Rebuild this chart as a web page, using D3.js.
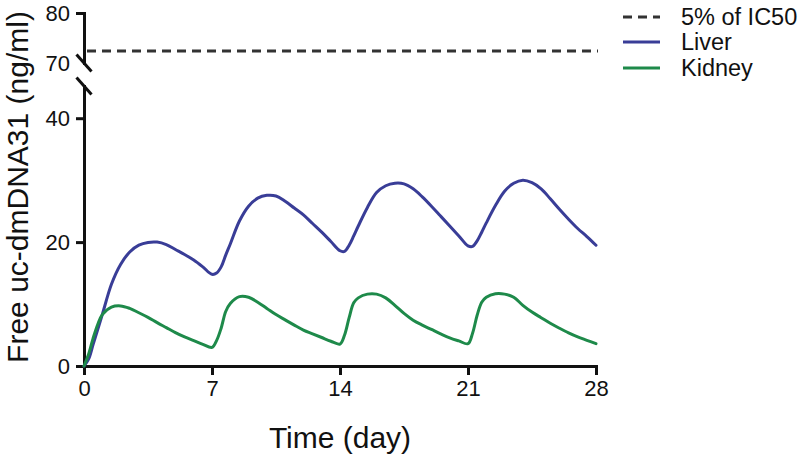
<!DOCTYPE html>
<html><head><meta charset="utf-8">
<script src="https://cdn.jsdelivr.net/npm/d3@7"></script>
<style>
html,body{margin:0;padding:0;background:#fff;}
svg{display:block;font-family:"Liberation Sans",Arial,Helvetica,sans-serif;}
.axis path,.axis line{stroke:#111;stroke-width:3;}
.axis text{fill:#111;font-size:22px;font-family:"Liberation Sans",Arial,sans-serif;}
</style></head>
<body>
<svg id="chart" width="800" height="457"></svg>
<script>
// ---- data ----
const times = [
  0,0.25,0.5,0.75,1,1.5,2,2.5,3,3.5,4,4.5,5,5.5,6,6.5,
  7,7.25,7.5,7.75,8,8.5,9,9.5,10,10.5,11,11.5,12,12.5,13,13.5,
  14,14.25,14.5,14.75,15,15.5,16,16.5,17,17.5,18,18.5,19,19.5,20,20.5,
  21,21.25,21.5,21.75,22,22.5,23,23.5,24,24.5,25,25.5,26,26.5,27,27.5,
  28];
const liver = [
  0,1.1,3.5,5.9,8.3,13.2,16.4,18.4,19.5,19.95,20.0,19.6,18.8,18.0,17.1,16.0,
  14.8,15.0,16.0,17.9,19.7,23.4,25.8,27.1,27.55,27.45,26.6,25.5,24.4,23.0,21.6,20.1,
  18.6,18.5,19.5,21.0,22.6,25.6,28.0,29.1,29.5,29.4,28.6,27.3,25.8,24.2,22.6,21.0,
  19.4,19.3,20.2,21.6,23.1,25.9,28.2,29.5,30.0,29.6,28.6,27.0,25.3,23.7,22.2,20.9,
  19.5];
const kidney = [
  0,1.9,4.5,6.7,8.3,9.5,9.7,9.3,8.6,7.85,7.0,6.2,5.4,4.7,4.1,3.5,
  3.0,4.1,6.1,8.8,10.1,11.2,11.1,10.3,9.3,8.3,7.45,6.6,5.8,5.2,4.6,4.0,
  3.55,5.0,7.8,10.2,11.0,11.6,11.6,11.0,9.8,8.5,7.4,6.6,5.9,5.2,4.55,4.05,
  3.6,5.3,8.2,10.3,11.1,11.65,11.6,11.1,9.8,8.7,7.8,6.9,6.1,5.35,4.7,4.15,
  3.6];
const threshold = 72.4;               // 5% of IC50
const xTicks = [0,7,14,21,28];
const yLowTicks = [0,20,40];
const yUpTicks = [70,80];
const seriesNames = ["5% of IC50","Liver","Kidney"];
const seriesColors = ["#333333","#393d97","#1e8a4a"];

// ---- scales ----
const svg = d3.select("#chart");
const x = d3.scaleLinear().domain([0,28]).range([84,596]);
const yLow = d3.scaleLinear().domain([0,45.2]).range([366,86]);
const yUp = d3.scaleLinear().domain([70,80]).range([63,13]);

// x axis
svg.append("g").attr("class","axis").attr("transform","translate(0,366)")
  .call(d3.axisBottom(x).tickValues(xTicks).tickSize(9).tickSizeOuter(0).tickPadding(5));
// lower y axis
svg.append("g").attr("class","axis").attr("transform","translate(84,0)")
  .call(d3.axisLeft(yLow).tickValues(yLowTicks).tickSize(8).tickSizeOuter(0).tickPadding(6));
// upper y axis
const gyu = svg.append("g").attr("class","axis").attr("transform","translate(84,0)")
  .call(d3.axisLeft(yUp).tickValues(yUpTicks).tickSize(8).tickSizeOuter(0).tickPadding(6));
gyu.selectAll(".tick").filter(d=>d===70).select("line").remove();
svg.selectAll(".axis path").attr("stroke-linecap","square");

// break marks
[yUp(70), yLow(45.2)].forEach(yy=>{
  svg.append("line").attr("x1",84-7.5).attr("y1",yy-8.5).attr("x2",84+7.5).attr("y2",yy+8.5)
    .attr("stroke","#111").attr("stroke-width",3);
});

// threshold line
svg.append("line").attr("x1",x(0)+3).attr("x2",x(28)+2)
  .attr("y1",yUp(threshold)).attr("y2",yUp(threshold))
  .attr("stroke",seriesColors[0]).attr("stroke-width",3).attr("stroke-dasharray","9,6");

// curves
const line = d3.line().x((d,i)=>x(times[i])).y(d=>yLow(d)).curve(d3.curveCatmullRom.alpha(0.5));
[[liver,seriesColors[1]],[kidney,seriesColors[2]]].forEach(([vals,c])=>{
  svg.append("path").attr("d",line(vals)).attr("fill","none")
    .attr("stroke",c).attr("stroke-width",3).attr("stroke-linejoin","round").attr("stroke-linecap","round");
});

// axis titles
svg.append("text").attr("x",340).attr("y",448).attr("text-anchor","middle")
  .attr("font-size",30).attr("fill","#111").text("Time (day)");
svg.append("text").attr("transform","translate(28,187) rotate(-90)").attr("text-anchor","middle")
  .attr("font-size",30).attr("fill","#111").text("Free uc-dmDNA31 (ng/ml)");

// legend
const legY = [17,42,68];
seriesNames.forEach((n,i)=>{
  svg.append("line").attr("x1",623).attr("x2",660).attr("y1",legY[i]).attr("y2",legY[i])
    .attr("stroke",seriesColors[i]).attr("stroke-width",3)
    .attr("stroke-dasharray", i===0 ? "9,6" : null);
  svg.append("text").attr("x",681).attr("y",legY[i]).attr("dy","0.36em")
    .attr("font-size",23.5).attr("fill","#111").text(n);
});
</script>
</body></html>
